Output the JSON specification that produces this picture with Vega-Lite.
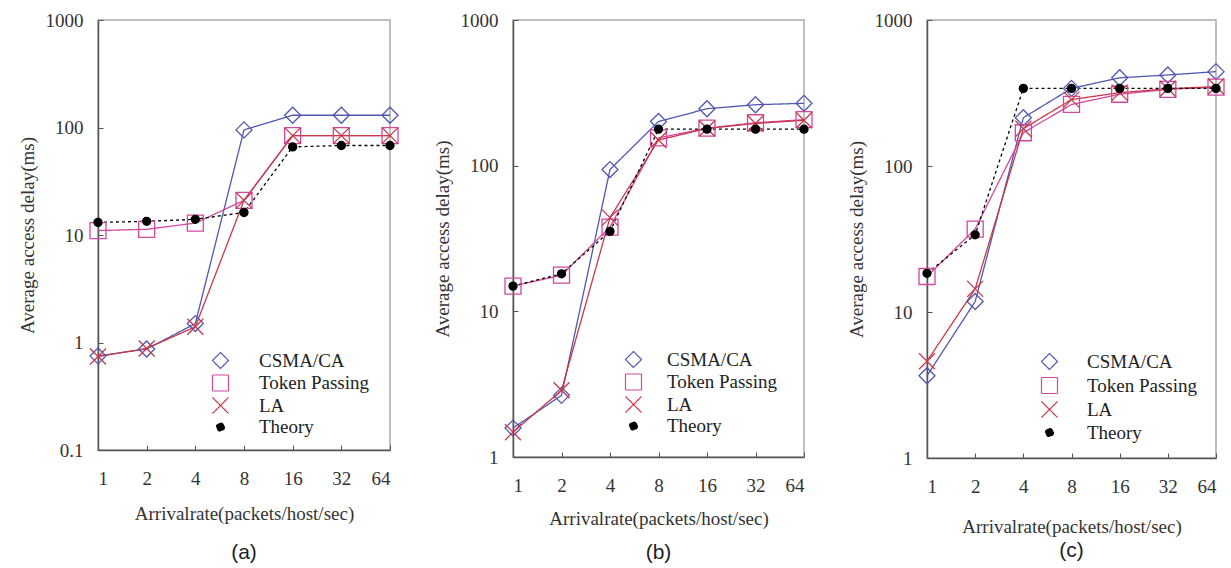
{
  "$schema": "https://vega.github.io/schema/vega-lite/v6.json",
  "background": "white",
  "padding": {"left": 17, "top": 10, "right": 5, "bottom": 5},
  "bounds": "flush",
  "spacing": 123,
  "config": {
    "font": "Liberation Serif",
    "view": {"stroke": "#aaaaaa", "strokeWidth": 1.5},
    "axis": {
      "grid": false,
      "labelFont": "Liberation Serif", "labelFontSize": 19, "labelColor": "#333333",
      "titleFont": "Liberation Serif", "titleFontSize": 19, "titleFontWeight": "normal", "titleColor": "#333333",
      "domainColor": "#555555", "domainWidth": 1.5, "tickColor": "#555555", "tickSize": -5, "tickWidth": 1
    },
    "axisX": {"labelPadding": 24, "titlePadding": 16},
    "axisY": {"labelPadding": 20, "titlePadding": 8},
    "legend": {
      "orient": "none", "title": null, "symbolSize": 64, "padding": 0,
      "symbolOffset": 33, "labelOffset": 29,
      "labelFont": "Liberation Serif", "labelFontSize": 19, "labelColor": "#222222",
      "rowPadding": 1.5, "symbolStrokeWidth": 1.2, "labelLimit": 0
    },
    "title": {"font": "Liberation Sans", "fontSize": 21, "fontWeight": "normal", "color": "#222222"}
  },
  "resolve": {"scale": {"color": "independent", "stroke": "independent", "shape": "independent", "strokeDash": "independent", "fill": "independent", "size": "independent"}},
  "datasets": {
    "a": [
      {"rate": 1, "series": "CSMA/CA", "delay": 0.75}, {"rate": 2, "series": "CSMA/CA", "delay": 0.87}, {"rate": 4, "series": "CSMA/CA", "delay": 1.5}, {"rate": 8, "series": "CSMA/CA", "delay": 95}, {"rate": 16, "series": "CSMA/CA", "delay": 130}, {"rate": 32, "series": "CSMA/CA", "delay": 130}, {"rate": 64, "series": "CSMA/CA", "delay": 130},
      {"rate": 1, "series": "Token Passing", "delay": 11.0}, {"rate": 2, "series": "Token Passing", "delay": 11.3}, {"rate": 4, "series": "Token Passing", "delay": 12.9}, {"rate": 8, "series": "Token Passing", "delay": 21}, {"rate": 16, "series": "Token Passing", "delay": 84}, {"rate": 32, "series": "Token Passing", "delay": 84}, {"rate": 64, "series": "Token Passing", "delay": 84},
      {"rate": 1, "series": "LA", "delay": 0.74}, {"rate": 2, "series": "LA", "delay": 0.88}, {"rate": 4, "series": "LA", "delay": 1.4}, {"rate": 8, "series": "LA", "delay": 21}, {"rate": 16, "series": "LA", "delay": 84}, {"rate": 32, "series": "LA", "delay": 84}, {"rate": 64, "series": "LA", "delay": 84},
      {"rate": 1, "series": "Theory", "delay": 13.1}, {"rate": 2, "series": "Theory", "delay": 13.4}, {"rate": 4, "series": "Theory", "delay": 14}, {"rate": 8, "series": "Theory", "delay": 16.2}, {"rate": 16, "series": "Theory", "delay": 66}, {"rate": 32, "series": "Theory", "delay": 68}, {"rate": 64, "series": "Theory", "delay": 68}
    ],
    "b": [
      {"rate": 1, "series": "CSMA/CA", "delay": 1.58}, {"rate": 2, "series": "CSMA/CA", "delay": 2.65}, {"rate": 4, "series": "CSMA/CA", "delay": 94}, {"rate": 8, "series": "CSMA/CA", "delay": 201}, {"rate": 16, "series": "CSMA/CA", "delay": 246}, {"rate": 32, "series": "CSMA/CA", "delay": 262}, {"rate": 64, "series": "CSMA/CA", "delay": 268},
      {"rate": 1, "series": "Token Passing", "delay": 14.9}, {"rate": 2, "series": "Token Passing", "delay": 17.7}, {"rate": 4, "series": "Token Passing", "delay": 37.9}, {"rate": 8, "series": "Token Passing", "delay": 155}, {"rate": 16, "series": "Token Passing", "delay": 181}, {"rate": 32, "series": "Token Passing", "delay": 197}, {"rate": 64, "series": "Token Passing", "delay": 207},
      {"rate": 1, "series": "LA", "delay": 1.48}, {"rate": 2, "series": "LA", "delay": 2.87}, {"rate": 4, "series": "LA", "delay": 44}, {"rate": 8, "series": "LA", "delay": 150}, {"rate": 16, "series": "LA", "delay": 180}, {"rate": 32, "series": "LA", "delay": 195}, {"rate": 64, "series": "LA", "delay": 205},
      {"rate": 1, "series": "Theory", "delay": 14.9}, {"rate": 2, "series": "Theory", "delay": 18.1}, {"rate": 4, "series": "Theory", "delay": 35.4}, {"rate": 8, "series": "Theory", "delay": 178}, {"rate": 16, "series": "Theory", "delay": 178}, {"rate": 32, "series": "Theory", "delay": 178}, {"rate": 64, "series": "Theory", "delay": 178}
    ],
    "c": [
      {"rate": 1, "series": "CSMA/CA", "delay": 3.66}, {"rate": 2, "series": "CSMA/CA", "delay": 11.8}, {"rate": 4, "series": "CSMA/CA", "delay": 214}, {"rate": 8, "series": "CSMA/CA", "delay": 340}, {"rate": 16, "series": "CSMA/CA", "delay": 402}, {"rate": 32, "series": "CSMA/CA", "delay": 420}, {"rate": 64, "series": "CSMA/CA", "delay": 443},
      {"rate": 1, "series": "Token Passing", "delay": 17.5}, {"rate": 2, "series": "Token Passing", "delay": 37}, {"rate": 4, "series": "Token Passing", "delay": 169}, {"rate": 8, "series": "Token Passing", "delay": 264}, {"rate": 16, "series": "Token Passing", "delay": 310}, {"rate": 32, "series": "Token Passing", "delay": 335}, {"rate": 64, "series": "Token Passing", "delay": 347},
      {"rate": 1, "series": "LA", "delay": 4.6}, {"rate": 2, "series": "LA", "delay": 14.4}, {"rate": 4, "series": "LA", "delay": 180}, {"rate": 8, "series": "LA", "delay": 285}, {"rate": 16, "series": "LA", "delay": 318}, {"rate": 32, "series": "LA", "delay": 338}, {"rate": 64, "series": "LA", "delay": 350},
      {"rate": 1, "series": "Theory", "delay": 18.4}, {"rate": 2, "series": "Theory", "delay": 33.8}, {"rate": 4, "series": "Theory", "delay": 340}, {"rate": 8, "series": "Theory", "delay": 340}, {"rate": 16, "series": "Theory", "delay": 340}, {"rate": 32, "series": "Theory", "delay": 340}, {"rate": 64, "series": "Theory", "delay": 340}
    ]
  },
  "hconcat": [
    {
      "width": 292, "height": 430,
      "data": {"name": "a"},
      "title": {"text": "(a)", "orient": "bottom", "frame": "group", "offset": 19},
      "encoding": {
        "x": {"field": "rate", "type": "quantitative", "scale": {"type": "log", "base": 2, "domain": [1, 64], "nice": false}, "axis": {"values": [1, 2, 4, 8, 16, 32, 64], "format": "d", "title": "Arrivalrate(packets/host/sec)"}},
        "y": {"field": "delay", "type": "quantitative", "scale": {"type": "log", "domain": [0.1, 1000], "nice": false}, "axis": {"values": [0.1, 1, 10, 100, 1000], "format": "~g", "title": "Average access delay(ms)"}}
      },
      "layer": [
        {"mark": {"type": "line", "strokeWidth": 1.3}, "encoding": {
          "color": {"field": "series", "type": "nominal", "scale": {"domain": ["CSMA/CA", "Token Passing", "LA", "Theory"], "range": ["#5058b0", "#d048a0", "#c83848", "#000000"]},
            "legend": {"legendX": 80, "legendY": 331}},
          "strokeDash": {"field": "series", "type": "nominal", "scale": {"domain": ["CSMA/CA", "Token Passing", "LA", "Theory"], "range": [[1, 0], [1, 0], [1, 0], [3, 3]]}, "legend": null}}},
        {"mark": {"type": "point", "strokeWidth": 1.3, "opacity": 1}, "encoding": {
          "stroke": {"field": "series", "type": "nominal", "scale": {"domain": ["CSMA/CA", "Token Passing", "LA", "Theory"], "range": ["#5058b0", "#d048a0", "#c83848", "#000000"]}, "legend": null},
          "shape": {"field": "series", "type": "nominal", "scale": {"domain": ["CSMA/CA", "Token Passing", "LA", "Theory"], "range": ["diamond", "square", "M-1,-1L1,1M-1,1L1,-1", "circle"]}, "legend": null},
          "fill": {"field": "series", "type": "nominal", "scale": {"domain": ["CSMA/CA", "Token Passing", "LA", "Theory"], "range": ["transparent", "transparent", "transparent", "#000000"]}, "legend": null},
          "size": {"field": "series", "type": "nominal", "scale": {"type": "ordinal", "domain": ["CSMA/CA", "Token Passing", "LA", "Theory"], "range": [256, 256, 256, 64]}, "legend": null}
        }}
      ]
    },
    {
      "width": 291, "height": 437,
      "data": {"name": "b"},
      "title": {"text": "(b)", "orient": "bottom", "frame": "group", "offset": 14},
      "encoding": {
        "x": {"field": "rate", "type": "quantitative", "scale": {"type": "log", "base": 2, "domain": [1, 64], "nice": false}, "axis": {"values": [1, 2, 4, 8, 16, 32, 64], "format": "d", "title": "Arrivalrate(packets/host/sec)", "titlePadding": 14}},
        "y": {"field": "delay", "type": "quantitative", "scale": {"type": "log", "domain": [1, 1000], "nice": false}, "axis": {"values": [1, 10, 100, 1000], "format": "~g", "title": "Average access delay(ms)"}}
      },
      "layer": [
        {"mark": {"type": "line", "strokeWidth": 1.3}, "encoding": {
          "color": {"field": "series", "type": "nominal", "scale": {"domain": ["CSMA/CA", "Token Passing", "LA", "Theory"], "range": ["#5058b0", "#d048a0", "#c83848", "#000000"]},
            "legend": {"legendX": 78, "legendY": 330, "labelOffset": 24}},
          "strokeDash": {"field": "series", "type": "nominal", "scale": {"domain": ["CSMA/CA", "Token Passing", "LA", "Theory"], "range": [[1, 0], [1, 0], [1, 0], [3, 3]]}, "legend": null}}},
        {"mark": {"type": "point", "strokeWidth": 1.3, "opacity": 1}, "encoding": {
          "stroke": {"field": "series", "type": "nominal", "scale": {"domain": ["CSMA/CA", "Token Passing", "LA", "Theory"], "range": ["#5058b0", "#d048a0", "#c83848", "#000000"]}, "legend": null},
          "shape": {"field": "series", "type": "nominal", "scale": {"domain": ["CSMA/CA", "Token Passing", "LA", "Theory"], "range": ["diamond", "square", "M-1,-1L1,1M-1,1L1,-1", "circle"]}, "legend": null},
          "fill": {"field": "series", "type": "nominal", "scale": {"domain": ["CSMA/CA", "Token Passing", "LA", "Theory"], "range": ["transparent", "transparent", "transparent", "#000000"]}, "legend": null},
          "size": {"field": "series", "type": "nominal", "scale": {"type": "ordinal", "domain": ["CSMA/CA", "Token Passing", "LA", "Theory"], "range": [256, 256, 256, 64]}, "legend": null}
        }}
      ]
    },
    {
      "width": 289, "height": 438,
      "data": {"name": "c"},
      "title": {"text": "(c)", "orient": "bottom", "frame": "group", "offset": 4},
      "encoding": {
        "x": {"field": "rate", "type": "quantitative", "scale": {"type": "log", "base": 2, "domain": [1, 64], "nice": false}, "axis": {"values": [1, 2, 4, 8, 16, 32, 64], "format": "d", "title": "Arrivalrate(packets/host/sec)", "titlePadding": 21}},
        "y": {"field": "delay", "type": "quantitative", "scale": {"type": "log", "domain": [1, 1000], "nice": false}, "axis": {"values": [1, 10, 100, 1000], "format": "~g", "title": "Average access delay(ms)"}}
      },
      "layer": [
        {"mark": {"type": "line", "strokeWidth": 1.3}, "encoding": {
          "color": {"field": "series", "type": "nominal", "scale": {"domain": ["CSMA/CA", "Token Passing", "LA", "Theory"], "range": ["#5058b0", "#d048a0", "#c83848", "#000000"]},
            "legend": {"legendX": 80, "legendY": 332, "rowPadding": 3, "labelOffset": 28}},
          "strokeDash": {"field": "series", "type": "nominal", "scale": {"domain": ["CSMA/CA", "Token Passing", "LA", "Theory"], "range": [[1, 0], [1, 0], [1, 0], [3, 3]]}, "legend": null}}},
        {"mark": {"type": "point", "strokeWidth": 1.3, "opacity": 1}, "encoding": {
          "stroke": {"field": "series", "type": "nominal", "scale": {"domain": ["CSMA/CA", "Token Passing", "LA", "Theory"], "range": ["#5058b0", "#d048a0", "#c83848", "#000000"]}, "legend": null},
          "shape": {"field": "series", "type": "nominal", "scale": {"domain": ["CSMA/CA", "Token Passing", "LA", "Theory"], "range": ["diamond", "square", "M-1,-1L1,1M-1,1L1,-1", "circle"]}, "legend": null},
          "fill": {"field": "series", "type": "nominal", "scale": {"domain": ["CSMA/CA", "Token Passing", "LA", "Theory"], "range": ["transparent", "transparent", "transparent", "#000000"]}, "legend": null},
          "size": {"field": "series", "type": "nominal", "scale": {"type": "ordinal", "domain": ["CSMA/CA", "Token Passing", "LA", "Theory"], "range": [256, 256, 256, 64]}, "legend": null}
        }}
      ]
    }
  ]
}
